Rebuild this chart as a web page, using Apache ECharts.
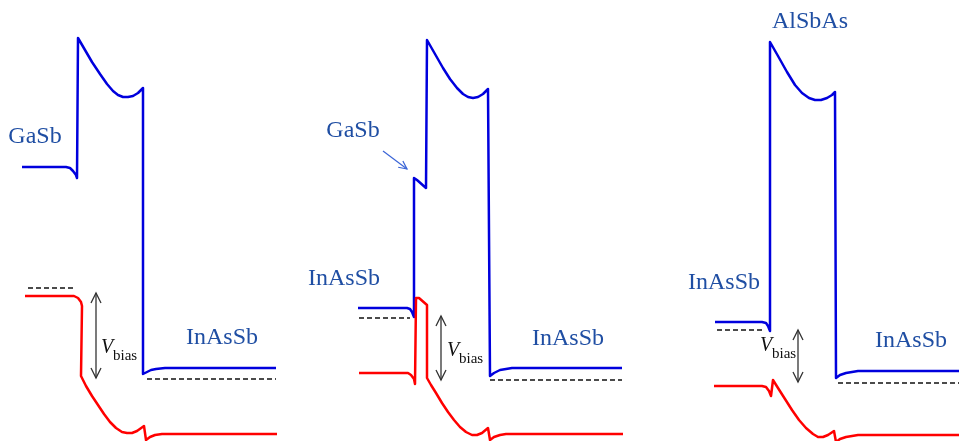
<!DOCTYPE html>
<html>
<head>
<meta charset="utf-8">
<script src="https://cdn.jsdelivr.net/npm/echarts@6/dist/echarts.min.js"></script>
<style>
  html, body { margin: 0; padding: 0; background: #ffffff; }
  #chart { width: 959px; height: 441px; }
</style>
</head>
<body>
<div id="chart"></div>
<script>
// Band-edge profiles (position, energy level on a downward screen scale) for three barrier structures.

// Structure 1: GaSb / AlSbAs barrier / InAsSb
const cb1 = [[22,167],[66,167],[70,168],[73,171],[76,175],[77,178],[78,38],[85,50],[92,62],[100,74],[107,84],[113,91],[118,95],[123,97],[128,97],[133,96],[138,93],[143,88],[143,374],[147,372],[151,370],[156,369],[165,368],[276,368]];
const vb1 = [[25,296],[74,296],[78,298],[81,302],[82,306],[81,376],[86,386],[92,396],[98,405],[104,414],[110,422],[116,428],[122,432],[127,433],[132,433],[137,431],[144,426],[146,440],[150,437],[155,435],[162,434],[277,434]];
const fermi1 = [[[28,288],[75,288]], [[147,379],[276,379]]];

// Structure 2: InAsSb / thin GaSb / AlSbAs barrier / InAsSb
const cb2 = [[358,308],[407,308],[410,309],[412,312],[414,317],[414,178],[417,180],[426,188],[427,40],[435,54],[443,68],[450,79],[457,88],[463,94],[468,97],[473,98],[478,97],[483,94],[488,89],[490,376],[494,373],[500,370],[506,369],[512,368],[622,368]];
const vb2 = [[359,373],[408,373],[411,375],[414,379],[415,384],[416,298],[419,298],[427,305],[427,378],[431,385],[436,393],[442,403],[448,412],[454,420],[460,427],[466,432],[472,435],[477,435],[482,433],[488,428],[490,440],[494,437],[500,435],[506,434],[512,434],[623,434]];
const fermi2 = [[[359,318],[410,318]], [[490,380],[622,380]]];

// Structure 3: InAsSb / AlSbAs barrier / InAsSb
const cb3 = [[715,322],[762,322],[766,323],[768,326],[770,331],[770,42],[778,56],[787,72],[795,85],[802,93],[809,98],[815,100],[821,100],[827,98],[832,95],[835,92],[836,378],[840,375],[846,373],[852,372],[858,371],[959,371]];
const vb3 = [[714,386],[762,386],[766,387],[769,391],[771,396],[773,380],[778,388],[785,399],[792,410],[799,420],[806,428],[813,434],[818,437],[823,437],[828,435],[834,431],[836,442],[840,439],[846,437],[852,436],[858,435],[959,435]];
const fermi3 = [[[717,330],[764,330]], [[838,383],[959,383]]];

// Material names: [x, y, text]
const materialLabels = [
  [35, 137, 'GaSb'],
  [222, 338, 'InAsSb'],
  [353, 131, 'GaSb'],
  [344, 279, 'InAsSb'],
  [568, 339, 'InAsSb'],
  [810, 22, 'AlSbAs'],
  [724, 283, 'InAsSb'],
  [911, 341, 'InAsSb']
];

// Bias arrows: [x, top, bottom], and the V_bias label anchor [x, y]
const biasArrows = [[96, 293, 378], [441, 316, 380], [798, 330, 382]];
const biasLabels = [[101, 348], [447, 351], [760, 346]];

// Pointer from the thin GaSb label to its layer: [x0, y0, x1, y1]
const pointer = [[383, 151, 407, 169]];

const BLUE = '#0000dd';
const RED = '#ff0000';
const TEXT_BLUE = '#1f4ea3';
const SERIF = '"Liberation Serif", "DejaVu Serif", serif';

function bandSeries(data, color) {
  return {
    type: 'line', data: data, showSymbol: false, symbol: 'none',
    lineStyle: { color: color, width: 2.5, join: 'round' },
    silent: true, z: 3
  };
}

function fermiSeries(segments) {
  return segments.map(seg => ({
    type: 'line', data: seg, showSymbol: false, symbol: 'none',
    lineStyle: { color: '#111111', width: 1.3, type: [5, 3] },
    silent: true, z: 2
  }));
}

const chart = echarts.init(document.getElementById('chart'), null, { renderer: 'canvas' });

const series = [
  bandSeries(cb1, BLUE), bandSeries(vb1, RED),
  bandSeries(cb2, BLUE), bandSeries(vb2, RED),
  bandSeries(cb3, BLUE), bandSeries(vb3, RED),
  ...fermiSeries(fermi1), ...fermiSeries(fermi2), ...fermiSeries(fermi3),
  {
    type: 'custom', data: materialLabels, silent: true, z: 5,
    renderItem: function (params, api) {
      const p = api.coord([api.value(0), api.value(1)]);
      return {
        type: 'text',
        style: {
          x: p[0], y: p[1], text: materialLabels[params.dataIndex][2],
          fill: TEXT_BLUE, font: '24px ' + SERIF,
          textAlign: 'center', textVerticalAlign: 'middle'
        }
      };
    }
  },
  {
    type: 'custom', data: biasArrows, silent: true, z: 4,
    renderItem: function (params, api) {
      const x = api.value(0);
      const top = api.coord([x, api.value(1)]);
      const bot = api.coord([x, api.value(2)]);
      const hw = 5, hh = 10;
      const st = { stroke: '#333333', lineWidth: 1.3, fill: null };
      return {
        type: 'group',
        children: [
          { type: 'line', shape: { x1: top[0], y1: top[1], x2: bot[0], y2: bot[1] }, style: st },
          { type: 'polyline', shape: { points: [[top[0] - hw, top[1] + hh], top, [top[0] + hw, top[1] + hh]] }, style: st },
          { type: 'polyline', shape: { points: [[bot[0] - hw, bot[1] - hh], bot, [bot[0] + hw, bot[1] - hh]] }, style: st }
        ]
      };
    }
  },
  {
    type: 'custom', data: biasLabels, silent: true, z: 5,
    renderItem: function (params, api) {
      const p = api.coord([api.value(0), api.value(1)]);
      return {
        type: 'group',
        children: [
          { type: 'text', style: { x: p[0], y: p[1], text: 'V', fill: '#111111', font: 'italic 20px ' + SERIF, textAlign: 'left', textVerticalAlign: 'middle' } },
          { type: 'text', style: { x: p[0] + 12, y: p[1] + 8, text: 'bias', fill: '#111111', font: '15px ' + SERIF, textAlign: 'left', textVerticalAlign: 'middle' } }
        ]
      };
    }
  },
  {
    type: 'custom', data: pointer, silent: true, z: 4,
    renderItem: function (params, api) {
      const a = api.coord([api.value(0), api.value(1)]);
      const b = api.coord([api.value(2), api.value(3)]);
      const ang = Math.atan2(b[1] - a[1], b[0] - a[0]);
      const L = 9, spread = 0.45;
      const h1 = [b[0] - L * Math.cos(ang - spread), b[1] - L * Math.sin(ang - spread)];
      const h2 = [b[0] - L * Math.cos(ang + spread), b[1] - L * Math.sin(ang + spread)];
      const st = { stroke: '#3a64d6', lineWidth: 1.2, fill: null };
      return {
        type: 'group',
        children: [
          { type: 'line', shape: { x1: a[0], y1: a[1], x2: b[0], y2: b[1] }, style: st },
          { type: 'polyline', shape: { points: [h1, b, h2] }, style: st }
        ]
      };
    }
  }
];

chart.setOption({
  animation: false,
  backgroundColor: '#ffffff',
  grid: { left: 0, right: 0, top: 0, bottom: 0 },
  xAxis: { type: 'value', min: 0, max: 959, show: false },
  yAxis: { type: 'value', min: 0, max: 441, inverse: true, show: false },
  series: series
});
</script>
</body>
</html>
